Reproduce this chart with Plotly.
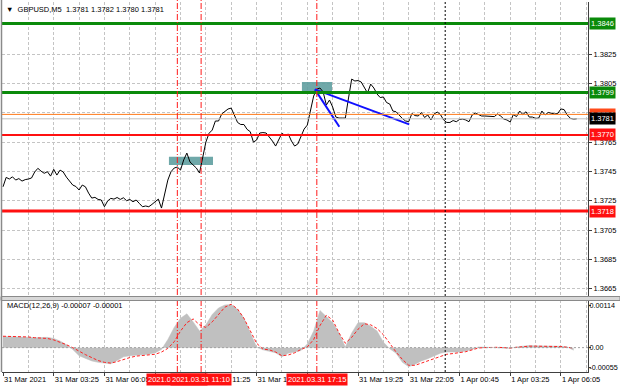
import plotly.graph_objects as go

# ---------------- data ----------------
# GBPUSD M5 closes, sampled every 2 bars (bar index 0 = 31 Mar 00:45)
close = [
    1.37346, 1.37410, 1.37399, 1.37414, 1.37392, 1.37402, 1.37385, 1.37395, 1.37399, 1.37406,
    1.37447, 1.37472, 1.37453, 1.37438, 1.37449, 1.37419, 1.37465, 1.37426, 1.37460, 1.37447,
    1.37412, 1.37385, 1.37358, 1.37348, 1.37324, 1.37358, 1.37346, 1.37303, 1.37269, 1.37274,
    1.37260, 1.37256, 1.37210, 1.37249, 1.37267, 1.37262, 1.37273, 1.37260, 1.37271, 1.37251,
    1.37260, 1.37244, 1.37256, 1.37233, 1.37210, 1.37215, 1.37210, 1.37226, 1.37244, 1.37262,
    1.37201, 1.37290, 1.37392, 1.37449, 1.37474, 1.37481, 1.37460, 1.37529, 1.37576, 1.37515,
    1.37491, 1.37474, 1.37440, 1.37549, 1.37651, 1.37711, 1.37733, 1.37795, 1.37795, 1.37843,
    1.37863, 1.37877, 1.37883, 1.37829, 1.37785, 1.37771, 1.37771, 1.37738, 1.37722, 1.37651,
    1.37665, 1.37713, 1.37716, 1.37713, 1.37689, 1.37658, 1.37624, 1.37672, 1.37711, 1.37696,
    1.37706, 1.37658, 1.37624, 1.37638, 1.37692, 1.37740, 1.37767, 1.37856, 1.37965, 1.38013,
    1.38020, 1.37993, 1.37904, 1.37938, 1.37890, 1.37822, 1.37815, 1.37815, 1.37815, 1.37952,
    1.38081, 1.38068, 1.38071, 1.38061, 1.38023, 1.37986, 1.38047, 1.38020, 1.37979, 1.37955,
    1.37959, 1.37921, 1.37911, 1.37863, 1.37858, 1.37832, 1.37812, 1.37795, 1.37791, 1.37846,
    1.37832, 1.37829, 1.37853, 1.37819, 1.37836, 1.37802, 1.37843, 1.37856, 1.37839, 1.37802,
    1.37785, 1.37785, 1.37798, 1.37790, 1.37805, 1.37808, 1.37802, 1.37790, 1.37836, 1.37849,
    1.37839, 1.37829, 1.37829, 1.37829, 1.37829, 1.37825, 1.37843, 1.37829, 1.37808, 1.37802,
    1.37788, 1.37839, 1.37825, 1.37863, 1.37839, 1.37858, 1.37822, 1.37822, 1.37813, 1.37815,
    1.37863, 1.37836, 1.37853, 1.37846, 1.37843, 1.37846, 1.37877, 1.37873, 1.37836, 1.37813,
    1.37808, 1.37810,
]
close_step = 2

# MACD(12,26,9), sampled every 4 bars
macd_hist = [
    0.00030, 0.00030, 0.00030, 0.00029, 0.00028, 0.00027, 0.00028, 0.00028, 0.00025, 0.00018,
    0.00008, -0.00005, -0.00022, -0.00030, -0.00036, -0.00040, -0.00043, -0.00044, -0.00035, -0.00025,
    -0.00022, -0.00021, -0.00020, -0.00018, -0.00014, -0.00005, 0.00022, 0.00055, 0.00080, 0.00092,
    0.00070, 0.00045, 0.00062, 0.00090, 0.00108, 0.00116, 0.00117, 0.00104, 0.00080, 0.00040,
    0.00002, -0.00006, -0.00009, -0.00014, -0.00025, -0.00015, -0.00012, -0.00008, 0.00010, 0.00045,
    0.00101, 0.00085, 0.00068, 0.00040, 0.00002, 0.00040, 0.00068, 0.00068, 0.00058, 0.00045,
    0.00015, -0.00003, -0.00015, -0.00040, -0.00052, -0.00045, -0.00036, -0.00030, -0.00022, -0.00015,
    -0.00012, -0.00013, -0.00012, -0.00009, -0.00005, 0.00002, 0.00001, 0.00000, 0.00000, 0.00000,
    -0.00002, 0.00002, 0.00004, 0.00006, 0.00005, 0.00004, 0.00004, 0.00004, 0.00004, 0.00002,
    -0.00007,
]
macd_signal = [
    0.00031, 0.00031, 0.00030, 0.00030, 0.00029, 0.00027, 0.00026, 0.00025, 0.00021, 0.00015,
    0.00008, 0.00000, -0.00010, -0.00019, -0.00027, -0.00035, -0.00040, -0.00042, -0.00038, -0.00032,
    -0.00027, -0.00023, -0.00021, -0.00020, -0.00018, -0.00012, -0.00002, 0.00016, 0.00045, 0.00068,
    0.00078, 0.00062, 0.00055, 0.00070, 0.00090, 0.00110, 0.00118, 0.00105, 0.00080, 0.00045,
    0.00012, -0.00004, -0.00006, -0.00012, -0.00022, -0.00020, -0.00014, -0.00005, 0.00002, 0.00022,
    0.00060, 0.00088, 0.00075, 0.00040, 0.00012, 0.00028, 0.00050, 0.00065, 0.00062, 0.00052,
    0.00035, 0.00012, -0.00012, -0.00032, -0.00048, -0.00048, -0.00042, -0.00035, -0.00028, -0.00022,
    -0.00018, -0.00016, -0.00014, -0.00011, -0.00006, -0.00001, 0.00000, 0.00001, 0.00001, 0.00000,
    -0.00001, 0.00001, 0.00003, 0.00004, 0.00004, 0.00004, 0.00004, 0.00003, 0.00003, 0.00001,
    -0.00001,
]
macd_step = 4

# time axis labels (bar index -> label); labels fully hidden under the red time boxes are blank
x_tick_idx = [0, 32, 64, 96, 128, 160, 192, 224, 256, 288, 320, 352]
x_tick_text = ["31 Mar 2021", "31 Mar 03:25", "31 Mar 06:05", "", "31 Mar 11:25",
               "31 Mar 14:05", "", "31 Mar 19:25", "31 Mar 22:05", "1 Apr 00:45",
               "1 Apr 03:25", "1 Apr 06:05"]

price_ticks = [1.3665, 1.3685, 1.3705, 1.3725, 1.3745, 1.3765, 1.3785, 1.3805, 1.3825]
price_tick_text = ["1.3665", "1.3685", "1.3705", "1.3725", "1.3745", "1.3765", "", "1.3805", "1.3825"]
macd_ticks = [0.00114, 0.0, -0.00055]
macd_tick_text = ["0.00114", "0.00", "-0.00055"]

# horizontal levels
green_levels = [1.3846, 1.3799]
red_levels = [1.3770, 1.3718]
ask_level = 1.3784
bid_level = 1.3781

# vertical time markers (bar index)
red_vlines = [110, 125, 198]
red_vline_labels = ["2021.03.31 09:55", "2021.03.31 11:10", "2021.03.31 17:15"]
day_sep = [279]

# rectangles (bar index range, price range)
rect_idx = [(104.7, 132.5), (188.6, 207.6)]
rect_price = [(1.37494, 1.37551), (1.37986, 1.38061)]

# trend lines (bar index, price)
blue_start = (196.8, 1.38011)
blue_ends = [(212.2, 1.37756), (256.3, 1.37772)]

title_text = "GBPUSD,M5  1.3781 1.3782 1.3780 1.3781"
macd_text = "MACD(12,26,9) -0.00007 -0.00001"

# ---------------- figure ----------------
W, H = 620, 388
FONT = "Liberation Sans"
FS = 7.5
GRID = "#c4c4c4"
GDASH = "3px,2px"


def pxx(p):
    return p / W


def pxy(p):
    return 1 - p / H


fig = go.Figure()

close_idx = [i * close_step for i in range(len(close))]
macd_idx = [i * macd_step for i in range(len(macd_hist))]

fig.add_trace(go.Scatter(x=macd_idx, y=macd_hist, mode="lines", fill="tozeroy",
                         fillcolor="#c0c0c0", line=dict(color="#c0c0c0", width=0.5),
                         xaxis="x2", yaxis="y2", hoverinfo="skip"))
fig.add_trace(go.Scatter(x=macd_idx, y=macd_signal, mode="lines",
                         line=dict(color="#ff2020", width=1, dash="3px,2px"),
                         xaxis="x2", yaxis="y2", hoverinfo="skip"))

fig.add_trace(go.Scatter(x=close_idx, y=close, mode="lines",
                         line=dict(color="black", width=1),
                         xaxis="x", yaxis="y", hoverinfo="skip"))

for ex, ey in blue_ends:
    fig.add_trace(go.Scatter(x=[blue_start[0], ex], y=[blue_start[1], ey], mode="lines",
                             line=dict(color="#1010ff", width=2),
                             xaxis="x", yaxis="y", hoverinfo="skip"))

shapes = []
for (x0, x1), (y0, y1) in zip(rect_idx, rect_price):
    shapes.append(dict(type="rect", xref="x", yref="y", x0=x0, x1=x1, y0=y0, y1=y1,
                       fillcolor="#5f9ea0", opacity=0.9, line=dict(width=0), layer="between"))
shapes.append(dict(type="line", xref="x domain", yref="y", x0=0, x1=1, y0=bid_level, y1=bid_level,
                   line=dict(color="#c0c0c0", width=1)))
shapes.append(dict(type="line", xref="x domain", yref="y", x0=0, x1=1, y0=ask_level, y1=ask_level,
                   line=dict(color="#ff7a1a", width=1)))
for lv in green_levels:
    shapes.append(dict(type="line", xref="x domain", yref="y", x0=0, x1=1, y0=lv, y1=lv,
                       line=dict(color="#0a8a0a", width=3)))
shapes.append(dict(type="line", xref="x domain", yref="y", x0=0, x1=1, y0=red_levels[0], y1=red_levels[0],
                   line=dict(color="#ff1010", width=2)))
shapes.append(dict(type="line", xref="x domain", yref="y", x0=0, x1=1, y0=red_levels[1], y1=red_levels[1],
                   line=dict(color="#ff1010", width=3)))
shapes.append(dict(type="line", xref="x2 domain", yref="y2", x0=0, x1=1, y0=0, y1=0,
                   line=dict(color="#a0a0a0", width=1, dash="2px,2px")))
for v in red_vlines:
    shapes.append(dict(type="line", xref="x", yref="paper", x0=v, x1=v, y0=pxy(372), y1=1,
                       line=dict(color="#ff1a1a", width=1, dash="6px,2px,1px,2px")))
for v in day_sep:
    shapes.append(dict(type="line", xref="x", yref="paper", x0=v, x1=v, y0=pxy(372), y1=1,
                       line=dict(color="#000000", width=1, dash="2px,2px")))
shapes.append(dict(type="rect", xref="paper", yref="paper", x0=pxx(1), x1=1, y0=pxy(300.5), y1=pxy(296.5),
                   fillcolor="#d8d8d8", line=dict(color="#8a8a8a", width=1)))
shapes.append(dict(type="line", xref="paper", yref="paper", x0=pxx(1.5), x1=pxx(1.5), y0=pxy(372), y1=1,
                   line=dict(color="#8a8a8a", width=1.5)))

annotations = []
annotations.append(dict(xref="paper", yref="paper", x=pxx(4), y=pxy(9), xanchor="left", yanchor="middle",
                        text="▼  " + title_text, showarrow=False,
                        font=dict(family=FONT, size=FS, color="#000000")))
annotations.append(dict(xref="paper", yref="paper", x=pxx(5), y=pxy(305), xanchor="left", yanchor="middle",
                        text=macd_text, showarrow=False,
                        font=dict(family=FONT, size=FS, color="#000000")))

price_labels = [(green_levels[0], "#0a8a0a"), (green_levels[1], "#0a8a0a"),
                (red_levels[0], "#ff1010"), (red_levels[1], "#ff1010"),
                (ask_level, "#ff4a1a"), (bid_level, "#000000")]
for val, col in price_labels:
    annotations.append(dict(xref="paper", yref="y", x=pxx(589), y=val, xanchor="left", yanchor="middle",
                            text=f"{val:.4f}", showarrow=False, bgcolor=col, borderpad=1,
                            font=dict(family=FONT, size=FS, color="#ffffff")))

for v, lab in zip(red_vlines, red_vline_labels):
    annotations.append(dict(xref="x2", yref="paper", x=v, y=pxy(379.5), xanchor="center", yanchor="middle",
                            text=lab, showarrow=False, bgcolor="#ff1010", borderpad=1,
                            font=dict(family=FONT, size=FS, color="#ffffff")))

xdom = [pxx(2), pxx(588)]
xrange_ = [-0.63, 369.1]
common_x = dict(domain=xdom, range=xrange_, tickmode="array", tickvals=x_tick_idx,
                showgrid=True, gridcolor=GRID, griddash=GDASH, gridwidth=1, zeroline=False,
                automargin=False, tickangle=0,
                minor=dict(tickmode="linear", tick0=0, dtick=16, showgrid=True, gridcolor=GRID,
                           griddash=GDASH, gridwidth=1, ticks=""))

fig.update_layout(
    width=W, height=H, margin=dict(l=0, r=0, t=0, b=0, autoexpand=False),
    paper_bgcolor="white", plot_bgcolor="white",
    showlegend=False, hovermode=False,
    xaxis=dict(**common_x, anchor="y", showticklabels=False, ticks="", showline=False),
    xaxis2=dict(**common_x, anchor="y2", matches="x", ticktext=x_tick_text, showticklabels=True,
                ticks="outside", ticklen=3, tickcolor="#404040", ticklabelposition="outside right",
                showline=True, linecolor="#404040", linewidth=1,
                tickfont=dict(family=FONT, size=FS, color="#000000")),
    yaxis=dict(domain=[pxy(297), pxy(2)], range=[1.36594, 1.38607], side="right", anchor="x",
               tickmode="array", tickvals=price_ticks, ticktext=price_tick_text,
               ticks="outside", ticklen=3, tickcolor="#404040", automargin=False,
               showgrid=True, gridcolor=GRID, griddash=GDASH, zeroline=False,
               showline=True, linecolor="#404040", linewidth=1,
               tickfont=dict(family=FONT, size=FS, color="#000000")),
    yaxis2=dict(domain=[pxy(372), pxy(300)], range=[-0.000662, 0.001295], side="right", anchor="x2",
                tickmode="array", tickvals=macd_ticks, ticktext=macd_tick_text,
                ticks="outside", ticklen=2, tickcolor="#404040", automargin=False,
                ticklabelstandoff=-3,
                showgrid=False, zeroline=False,
                showline=True, linecolor="#404040", linewidth=1,
                tickfont=dict(family=FONT, size=7.2, color="#000000")),
    shapes=shapes, annotations=annotations,
)

fig.write_html("out.html")
